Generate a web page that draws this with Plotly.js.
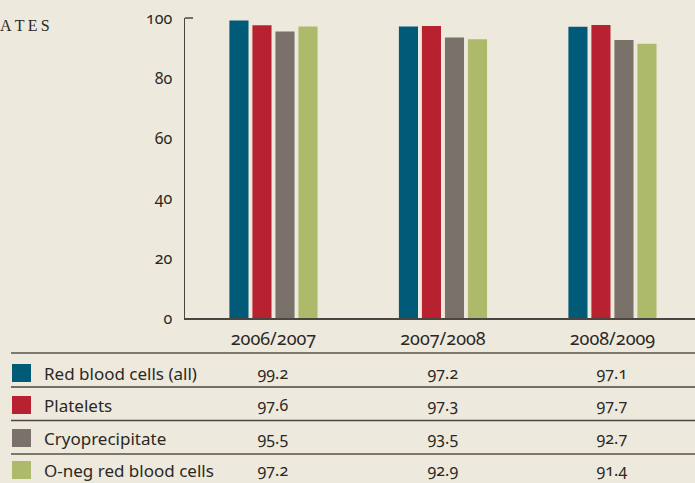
<!DOCTYPE html>
<html>
<head>
<meta charset="utf-8">
<script src="https://cdn.plot.ly/plotly-3.0.1.min.js"></script>
<style>
html,body{margin:0;padding:0;background:#EEE9DD;}
#chart{width:695px;height:483px;}
.main-svg text{font-feature-settings:"onum" 1;}
</style>
</head>
<body>
<div id="chart"></div>
<script>
var categories = ["2006/2007", "2007/2008", "2008/2009"];
var seriesNames = ["Red blood cells (all)", "Platelets", "Cryoprecipitate", "O-neg red blood cells"];
var redBloodCells = [99.2, 97.2, 97.1];
var platelets = [97.6, 97.3, 97.7];
var cryoprecipitate = [95.5, 93.5, 92.7];
var oNegRedBloodCells = [97.2, 92.9, 91.4];
var yTickValues = [0, 20, 40, 60, 80, 100];

var seriesValues = [redBloodCells, platelets, cryoprecipitate, oNegRedBloodCells];
var colors = ["#005A78", "#B82130", "#7A716B", "#ADBA6A"];

var L = 185, T = 18, W = 510, H = 300;
function px(xp){ return (xp - L) / W; }
function py(yp){ return (T + H - yp) / H; }

var traces = seriesValues.map(function(vals, i){
  return {type:"bar", x:categories, y:vals, name:seriesNames[i],
          marker:{color:colors[i], line:{width:0}}, hoverinfo:"skip"};
});

var font = "Noto Sans, Open Sans, sans-serif";
var textColor = "#2B2824";
var annotations = [];
var shapes = [];

// title fragment
annotations.push({xref:"paper", yref:"paper", x:px(-2), y:py(26), xanchor:"left", yanchor:"middle",
  text:"A\u2009T\u2009E\u2009S", showarrow:false, font:{family:"Liberation Serif, serif", size:16, color:textColor}});

// table rows
var rowCenters = [373, 405, 438, 470];
var lineYs = [353, 387, 420.5, 454];
lineYs.forEach(function(ly, k){
  shapes.push({type:"line", xref:"paper", yref:"paper", x0:px(11), x1:1, y0:py(ly), y1:py(ly),
    line:{color: (k===0||k===3) ? "#7D776D" : "#4A4540", width: (k===0||k===3) ? 2 : 1.5}});
});
seriesNames.forEach(function(name, i){
  var yc = rowCenters[i];
  shapes.push({type:"rect", xref:"paper", yref:"paper", x0:px(12), x1:px(31), y0:py(yc-9), y1:py(yc+9),
    fillcolor:colors[i], line:{width:0}});
  annotations.push({xref:"paper", yref:"paper", x:px(42), y:py(yc), xanchor:"left", yanchor:"middle",
    text:name, showarrow:false, font:{family:font, size:17, color:textColor}});
  seriesValues[i].forEach(function(v, j){
    annotations.push({xref:"x", yref:"paper", x:categories[j], y:py(yc), xanchor:"center", yanchor:"middle",
      text:v.toFixed(1), showarrow:false, font:{family:font, size:16, color:textColor}});
  });
});

// top corner tick of y axis
shapes.push({type:"line", xref:"paper", yref:"paper", x0:0, x1:px(193), y0:1, y1:1,
  line:{color:"#4A4540", width:1.5}});

var layout = {
  width:695, height:483,
  paper_bgcolor:"#EEE9DD", plot_bgcolor:"#EEE9DD",
  margin:{l:L, r:0, t:T, b:483-T-H, pad:0},
  showlegend:false,
  barmode:"group", bargap:0.457, bargroupgap:0.17,
  font:{family:font, color:textColor},
  xaxis:{type:"category", range:[-0.522, 2.487], showline:true, linecolor:"#4A4540", linewidth:1.5,
    ticks:"", showgrid:false, zeroline:false, tickfont:{family:font, size:18, color:textColor},
    ticklabelstandoff:4},
  yaxis:{range:[0,100], tickvals:yTickValues, ticktext:yTickValues.map(String), showline:true,
    linecolor:"#4A4540", linewidth:1.5, ticks:"", showgrid:false, zeroline:false,
    tickfont:{family:font, size:16, color:textColor}, ticklabelstandoff:8},
  shapes:shapes, annotations:annotations
};

Plotly.newPlot("chart", traces, layout, {staticPlot:true, displayModeBar:false});
</script>
</body>
</html>
